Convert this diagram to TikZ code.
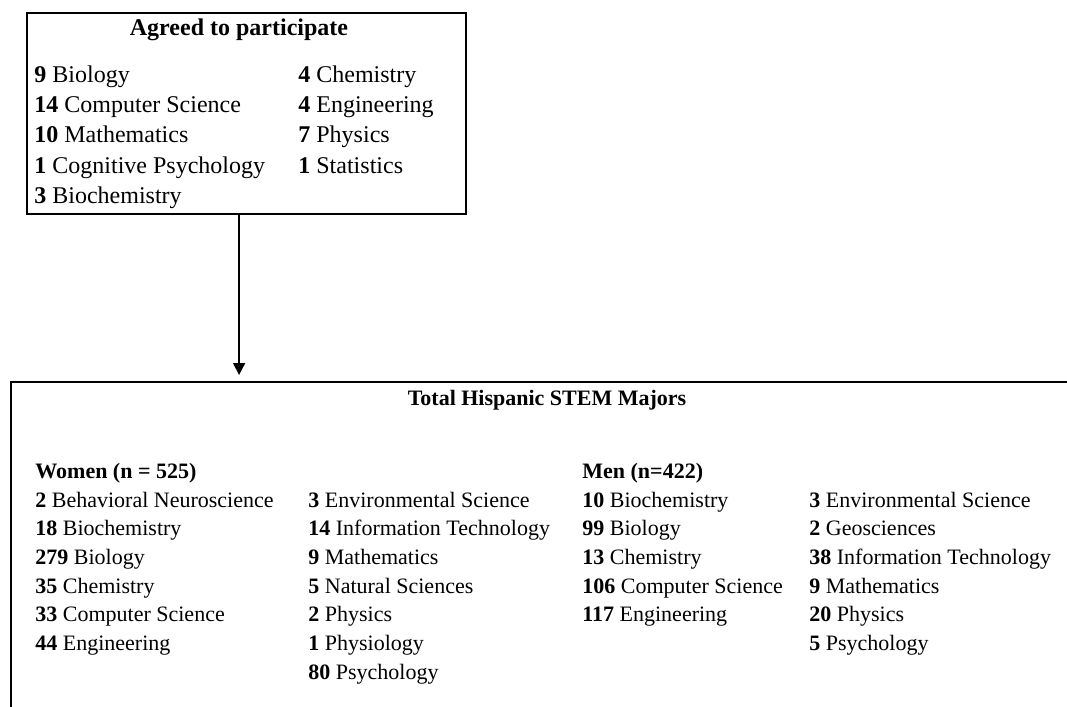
\documentclass[tikz,border=0pt]{standalone}
\usepackage{fontspec}
\setmainfont{Liberation Serif}
\usetikzlibrary{arrows.meta, positioning}

\begin{document}
\begin{tikzpicture}[x=0.5pt, y=-0.5pt,
    box/.style={draw, line width=1.1pt, inner sep=0pt},
    big/.style={font=\fontsize{12}{14}\selectfont},
    small/.style={font=\fontsize{11}{13}\selectfont},
    entry/.style={anchor=base west, inner sep=0pt},
    arr/.style={-{Triangle[length=6pt, width=6pt]}, line width=0.8pt, shorten >=3pt}]
    \useasboundingbox (0,0) rectangle (1067,707);
    \clip (0,0) rectangle (1067,707);

    % Draw the participants box
    \node[box, anchor=north west, minimum width=219.5pt, minimum height=100.5pt] (agreed) at (26,12) {};
    \node[big, font=\fontsize{12}{14}\selectfont\bfseries, anchor=base, inner sep=0pt] (agreedtitle) at (239,35) {Agreed to participate};
    \foreach \n/\s [count=\i from 0] in {9/Biology, 14/Computer Science, 10/Mathematics, 1/Cognitive Psychology, 3/Biochemistry} {
        \node[entry, big] (a1-\i) at (34, {82+30.4*\i}) {\textbf{\n} \s};
    }
    \foreach \n/\s [count=\i from 0] in {4/Chemistry, 4/Engineering, 7/Physics, 1/Statistics} {
        \node[entry, big] (a2-\i) at (298, {82+30.4*\i}) {\textbf{\n} \s};
    }

    % Draw the majors box (runs off the page)
    \node[box, anchor=north west, minimum width=600pt, minimum height=250pt] (total) at (10,381) {};
    \node[small, font=\fontsize{11}{13}\selectfont\bfseries, anchor=base, inner sep=0pt] (totaltitle) at (547,405) {Total Hispanic STEM Majors};

    % Women
    \node[entry, small, font=\fontsize{11}{13}\selectfont\bfseries] (women) at (35,478) {Women (n = 525)};
    \foreach \n/\s [count=\i from 0] in {2/Behavioral Neuroscience, 18/Biochemistry, 279/Biology, 35/Chemistry, 33/Computer Science, 44/Engineering} {
        \node[entry, small] (w1-\i) at (35, {507+28.7*\i}) {\textbf{\n} \s};
    }
    \foreach \n/\s [count=\i from 0] in {3/Environmental Science, 14/Information Technology, 9/Mathematics, 5/Natural Sciences, 2/Physics, 1/Physiology, 80/Psychology} {
        \node[entry, small] (w2-\i) at (308, {507+28.7*\i}) {\textbf{\n} \s};
    }

    % Men
    \node[entry, small, font=\fontsize{11}{13}\selectfont\bfseries] (men) at (582,478) {Men (n=422)};
    \foreach \n/\s [count=\i from 0] in {10/Biochemistry, 99/Biology, 13/Chemistry, 106/Computer Science, 117/Engineering} {
        \node[entry, small] (m1-\i) at (582, {507+28.7*\i}) {\textbf{\n} \s};
    }
    \foreach \n/\s [count=\i from 0] in {3/Environmental Science, 2/Geosciences, 38/Information Technology, 9/Mathematics, 20/Physics, 5/Psychology} {
        \node[entry, small] (m2-\i) at (809, {507+28.7*\i}) {\textbf{\n} \s};
    }

    % Arrow between the boxes
    \coordinate (drop) at ([xshift=-3.75pt]agreed.south);
    \draw[arr] (drop) -- (drop |- total.north);
\end{tikzpicture}
\end{document}
